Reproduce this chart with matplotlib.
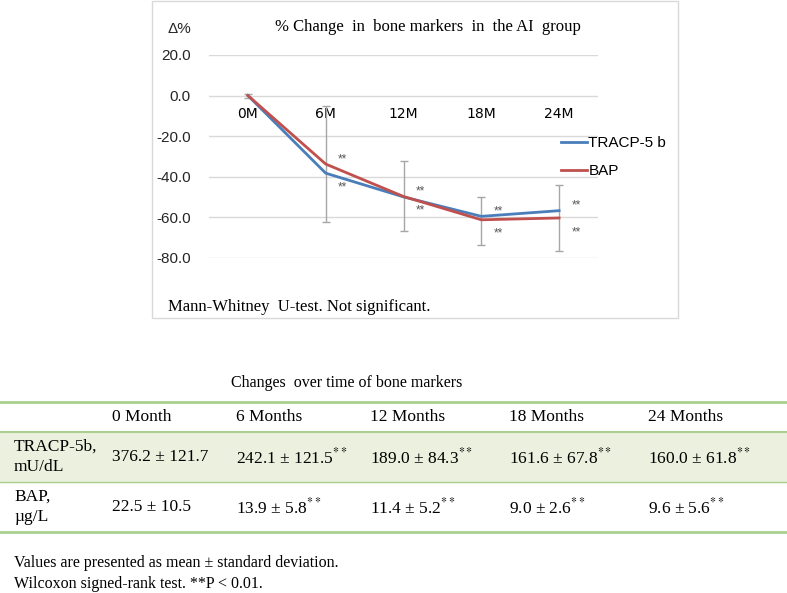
import matplotlib.pyplot as plt
from matplotlib.lines import Line2D
from matplotlib.patches import Rectangle

# chart data
months = ['0M', '6M', '12M', '18M', '24M']
tracp = [0.0, -38.3, -50.0, -59.6, -56.8]
bap = [0.0, -33.8, -49.8, -61.3, -60.4]
bap_err_low = [1.0, 28.7, 16.8, 12.3, 16.2]
bap_err_high = [1.0, 28.7, 17.3, 11.0, 16.5]

# table data
col_labels = ['0 Month', '6 Months', '12 Months', '18 Months', '24 Months']
row_labels = ['TRACP-5b,\nmU/dL', 'BAP,\nµg/L']
tracp_cells = ['376.2 ± 121.7', '242.1 ± 121.5$^{**}$', '189.0 ± 84.3$^{**}$',
               '161.6 ± 67.8$^{**}$', '160.0 ± 61.8$^{**}$']
bap_cells = ['22.5 ± 10.5', '13.9 ± 5.8$^{**}$', '11.4 ± 5.2$^{**}$',
             '9.0 ± 2.6$^{**}$', '9.6 ± 5.6$^{**}$']
notes = ['Values are presented as mean ± standard deviation.',
         'Wilcoxon signed-rank test. **P < 0.01.']

W, H = 787, 593
plt.rcParams['mathtext.fontset'] = 'stix'
SERIF = 'Liberation Serif'
SANS = 'Liberation Sans'

fig = plt.figure(figsize=(W / 100, H / 100), dpi=100)


def fx(x):
    return x / W


def fy(y):
    return 1 - y / H


# chart frame
fig.add_artist(Rectangle((fx(152), fy(318)), fx(678) - fx(152), fy(1) - fy(318),
                         transform=fig.transFigure, fill=False,
                         edgecolor='#d9d9d9', linewidth=1))

ax = fig.add_axes([fx(209), fy(257.7), fx(598) - fx(209), fy(55) - fy(257.7)])
x = list(range(len(months)))
ax.errorbar(x, bap, yerr=[bap_err_low, bap_err_high], fmt='none',
            ecolor='#a6a6a6', elinewidth=1, capsize=3, capthick=1, zorder=2)
ax.plot(x, tracp, color='#4a7ebb', linewidth=2, label='TRACP-5 b', zorder=3)
ax.plot(x, bap, color='#c0504d', linewidth=2, label='BAP', zorder=4)

for i in range(1, len(months)):
    top = max(tracp[i], bap[i])
    low = min(tracp[i], bap[i])
    ax.annotate('**', (i, top), xytext=(17, 5), textcoords='offset pixels',
                ha='center', va='center', fontsize=8.5, color='#595959',
                family=SANS)
    ax.annotate('**', (i, low), xytext=(17, -14), textcoords='offset pixels',
                ha='center', va='center', fontsize=8.5, color='#595959',
                family=SANS)

ax.set_xlim(-0.5, 4.5)
ax.set_ylim(-80, 20)
ax.set_yticks([20, 0, -20, -40, -60, -80])
ax.set_yticklabels(['%.1f' % v for v in [20, 0, -20, -40, -60, -80]],
                   family=SANS, fontsize=11, color='#262626')
ax.set_xticks(x)
ax.set_xticklabels(months, family=SANS, fontsize=11, color='#262626')
ax.spines['bottom'].set_position(('data', 0))
for s in ['top', 'right', 'left', 'bottom']:
    ax.spines[s].set_visible(False)
ax.tick_params(axis='x', length=0, pad=8)
ax.tick_params(axis='y', length=0, pad=13)
ax.grid(axis='y', color='#d9d9d9', linewidth=1)
ax.set_axisbelow(True)

leg = ax.legend(loc='center left', bbox_to_anchor=(fx(547), fy(157)),
                bbox_transform=fig.transFigure, frameon=False,
                handlelength=1.7, handletextpad=0.1, labelspacing=0.9,
                prop={'family': SANS, 'size': 11})

fig.text(fx(168), fy(29), 'Δ%', family=SANS, fontsize=11, va='center',
         color='#262626')
fig.text(fx(428), fy(27), '% Change  in  bone markers  in  the AI  group',
         family=SERIF, fontsize=12, ha='center', va='center')
fig.text(fx(168), fy(307), 'Mann-Whitney  U-test. Not significant.',
         family=SERIF, fontsize=12, va='center')

# table
fig.text(fx(347), fy(383), 'Changes  over time of bone markers',
         family=SERIF, fontsize=11.5, ha='center', va='center')
fig.add_artist(Rectangle((0, fy(482)), 1, fy(432) - fy(482),
                         transform=fig.transFigure, color='#ebf1de', zorder=0))
for yy, lw in [(402, 2), (432, 1.5), (482, 1), (532, 2)]:
    fig.add_artist(Line2D([0, 1], [fy(yy), fy(yy)], transform=fig.transFigure,
                          color='#a9d08e', linewidth=lw))

col_x = [112, 236, 370, 509, 648]
for cx, lab in zip(col_x, col_labels):
    fig.text(fx(cx), fy(417), lab, family=SERIF, fontsize=12.5, va='center')
for row_y, rlab, cells in [(457, row_labels[0], tracp_cells),
                           (507, row_labels[1], bap_cells)]:
    fig.text(fx(14), fy(row_y), rlab, family=SERIF, fontsize=12.5, va='center',
             linespacing=1.4)
    for cx, c in zip(col_x, cells):
        fig.text(fx(cx), fy(row_y), c, family=SERIF, fontsize=12.5, va='center')

fig.text(fx(14), fy(563), notes[0], family=SERIF, fontsize=11.5, va='center')
fig.text(fx(14), fy(584), notes[1], family=SERIF, fontsize=11.5, va='center')

fig.savefig('out.png', dpi=100)
